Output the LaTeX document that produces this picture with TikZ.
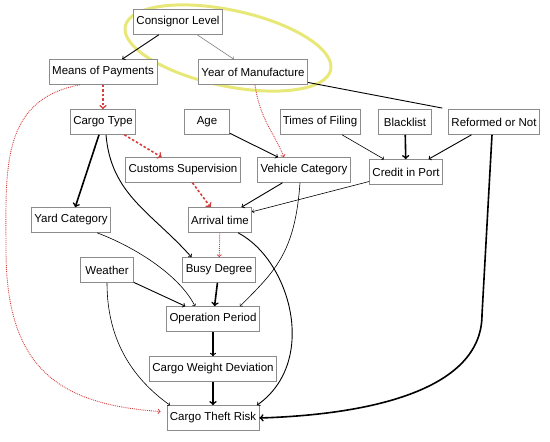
\documentclass[tikz,border=0pt]{standalone}
\usepackage{fontspec}
\setmainfont{Liberation Sans}
\usetikzlibrary{shapes,arrows,positioning}
\definecolor{boxgray}{RGB}{140,140,140}
\definecolor{linkred}{RGB}{212,62,62}
\definecolor{ringyellow}{RGB}{232,232,120}
\tikzstyle{factor}   = [draw = boxgray, line width=0.6pt, fill=white, inner xsep=3pt, minimum height=25pt, font=\fontsize{11.5}{13}\selectfont]
\tikzstyle{line}     = [draw, ->, line width=0.9pt]
\tikzstyle{weak}     = [draw, ->, line width=0.6pt]
\tikzstyle{strong}   = [draw, ->, line width=1.6pt]
\tikzstyle{reddash}  = [draw = linkred, ->, line width=1.6pt, dash pattern=on 2.5pt off 2pt]
\tikzstyle{reddot}   = [draw = linkred, ->, line width=0.9pt, densely dotted]

\begin{document}
\begin{tikzpicture}[x=1pt, y=-1pt]
	\useasboundingbox (0,0) rectangle (550,442);
	% Highlight %
	\draw [ringyellow, line width=3pt, rotate around={-12:(228,48)}] (228,48) ellipse [x radius=105pt, y radius=38pt];
	% Node Setting %
	\node [factor] (cl) at (178,22) {Consignor Level};
	\node [factor] (mp) at (103,72) {Means of Payments};
	\node [factor] (ym) at (253,72) {Year of Manufacture};
	\node [factor] (ct) at (103,122) {Cargo Type};
	\node [factor, minimum width=45pt] (age) at (207,122) {Age};
	\node [factor] (tf) at (320,122) {Times of Filing};
	\node [factor, minimum width=53pt] (bl) at (405,122) {Blacklist};
	\node [factor] (rn) at (494,122) {Reformed or Not};
	\node [factor] (cs) at (183,170) {Customs Supervision};
	\node [factor] (vc) at (304,170) {Vehicle Category};
	\node [factor] (cp) at (406,172) {Credit in Port};
	\node [factor] (yc) at (71,220) {Yard Category};
	\node [factor] (at) at (220,220) {Arrival time};
	\node [factor, minimum width=53pt] (we) at (107,270) {Weather};
	\node [factor] (bd) at (219,270) {Busy Degree};
	\node [factor] (op) at (213,319) {Operation Period};
	\node [factor] (cwd) at (213,369) {Cargo Weight Deviation};
	\node [factor] (ctr) at (213,418) {Cargo Theft Risk};
	\coordinate (mpbend) at (6,250);
	% Connection %
	\path [line] (cl)  -- (mp);
	\path [weak, draw=gray] (cl)  -- (ym);
	\path [reddash] (mp)  -- (ct);
	\path [draw=linkred, line width=0.9pt, densely dotted] ([xshift=-23pt]mp.south) .. controls +(-80,15) and +(0,-80) .. (mpbend);
	\path [reddot, shorten >=6pt] (mpbend) .. controls +(0,120) and +(-106,-7.5) .. ([yshift=6pt]ctr.west);
	\path [reddot] ([xshift=2pt]ym.south) .. controls +(5,35) and +(-10,-25) .. ([xshift=-20pt]vc.north);
	\path [draw, line width=0.9pt, shorten >=6pt] (ym)  -- (rn.north west);
	\path [strong] ([xshift=-4pt]ct.south)  -- (yc);
	\path [line] ([xshift=3pt]ct.south) .. controls +(5,60) and +(-40,-45) .. (bd.155);
	\path [reddash] (ct)  -- (cs);
	\path [line] (age)  -- (vc);
	\path [weak] (tf)  -- (cp);
	\path [strong] (bl)  -- (cp);
	\path [line] (rn)  -- (cp);
	\path [strong] ([xshift=-2pt]rn.south) -- ++(-10,180) .. controls +(0,70) and +(125,-4) .. (ctr.east);
	\path [reddash] (cs)  -- (at);
	\path [line] (vc)  -- (at);
	\path [weak] ([xshift=-4pt]vc.south) .. controls +(-5,70) and +(35,-35) .. ([xshift=27pt]op.north);
	\path [weak] (cp)  -- (at);
	\path [reddot] (at)  -- (bd);
	\path [line] ([xshift=18pt]at.south) .. controls +(52,27) and +(62,-44) .. ([xshift=44pt]ctr.north);
	\path [weak] ([xshift=26pt]yc.south) .. controls +(40,15) and +(-15,-30) .. ([xshift=-18pt]op.north);
	\path [line] (we)  -- (op);
	\path [weak] (we.south) .. controls +(0,60) and +(-35,-25) .. ([xshift=-43pt]ctr.north);
	\path [strong] (bd)  -- (op);
	\path [line, line width=1.2pt] (op)  -- (cwd);
	\path [strong] (cwd)  -- (ctr);
\end{tikzpicture}
\end{document}
